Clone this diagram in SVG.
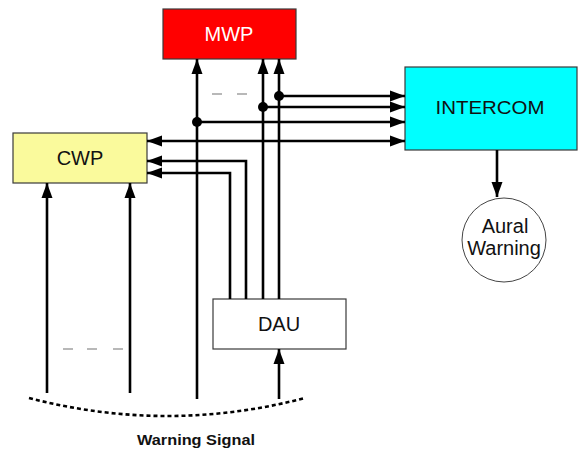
<svg xmlns="http://www.w3.org/2000/svg" width="578" height="449" viewBox="0 0 578 449">
<style>
.box{stroke:#3a3a3a;stroke-width:1.2}
.lbl{font-family:"Liberation Sans",Arial,sans-serif;font-size:20px;text-anchor:middle;fill:#111}
.ln{fill:none;stroke:#000;stroke-width:2.6}
.arr{marker-end:url(#ah)}
.dbl{marker-end:url(#ah);marker-start:url(#ahs)}
.gd{stroke:#a0a0a0;stroke-width:1.5}
</style>
<defs>
<marker id="ah" markerUnits="userSpaceOnUse" markerWidth="16" markerHeight="12" refX="15" refY="6" orient="auto" viewBox="0 0 16 12">
<path d="M0,0.5 L15,6 L0,11.5 z" fill="#000"/>
</marker>
<marker id="ahs" markerUnits="userSpaceOnUse" markerWidth="16" markerHeight="12" refX="15" refY="6" orient="auto-start-reverse" viewBox="0 0 16 12">
<path d="M0,0.5 L15,6 L0,11.5 z" fill="#000"/>
</marker>
</defs>
<rect width="578" height="449" fill="#fff"/>

<g id="MWP">
<rect class="box" x="163" y="9" width="133" height="50" fill="#ff0000"/>
<text class="lbl" x="229" y="41" fill="#fff" style="fill:#fff">MWP</text>
</g>
<g id="CWP">
<rect class="box" x="13" y="133" width="134" height="50" fill="#fafa9c"/>
<text class="lbl" x="80" y="165">CWP</text>
</g>
<g id="INTERCOM">
<rect class="box" x="405" y="67" width="172" height="83" fill="#00ffff"/>
<text class="lbl" x="490" y="114" textLength="109" lengthAdjust="spacingAndGlyphs" style="font-size:19px">INTERCOM</text>
</g>
<g id="DAU">
<rect class="box" x="213" y="299" width="133" height="50" fill="#fff" stroke="#555"/>
<text class="lbl" x="279" y="331">DAU</text>
</g>
<g id="AuralWarning">
<circle cx="504" cy="240" r="42" fill="#fff" stroke="#444" stroke-width="1"/>
<text class="lbl" x="505" y="233">Aural</text>
<text class="lbl" x="504" y="255">Warning</text>
</g>

<g id="connectors">
<line class="ln arr" x1="197" y1="399" x2="197" y2="59"/>
<line class="ln arr" x1="263" y1="299" x2="263" y2="59"/>
<line class="ln arr" x1="279" y1="299" x2="279" y2="59"/>
<line class="ln arr" x1="279" y1="96" x2="405" y2="96"/>
<line class="ln arr" x1="263" y1="107" x2="405" y2="107"/>
<line class="ln arr" x1="197" y1="122" x2="405" y2="122"/>
<line class="ln dbl" x1="147" y1="141" x2="405" y2="141"/>
<path class="ln arr" d="M246,299 V161 H147"/>
<path class="ln arr" d="M230,299 V173 H147"/>
<line class="ln arr" x1="47" y1="393" x2="47" y2="183"/>
<line class="ln arr" x1="130" y1="393" x2="130" y2="183"/>
<line class="ln arr" x1="279" y1="399" x2="279" y2="349"/>
<line class="ln arr" x1="497" y1="150" x2="497" y2="197"/>
<circle cx="279" cy="96" r="5"/>
<circle cx="263" cy="107" r="5"/>
<circle cx="197" cy="122" r="5"/>
<path d="M29,398 Q167,434 305,398" fill="none" stroke="#000" stroke-width="2.6" stroke-dasharray="4,3"/>
<g class="gd">
<line x1="212" y1="94" x2="222" y2="94"/>
<line x1="237" y1="94" x2="247" y2="94"/>
<line x1="63" y1="349" x2="73" y2="349"/>
<line x1="87" y1="349" x2="97" y2="349"/>
<line x1="113" y1="349" x2="123" y2="349"/>
</g>
</g>
<text x="196" y="445" font-family="'Liberation Sans',Arial,sans-serif" font-weight="bold" font-size="14.5" text-anchor="middle" fill="#111" textLength="118" lengthAdjust="spacingAndGlyphs">Warning Signal</text>
</svg>
